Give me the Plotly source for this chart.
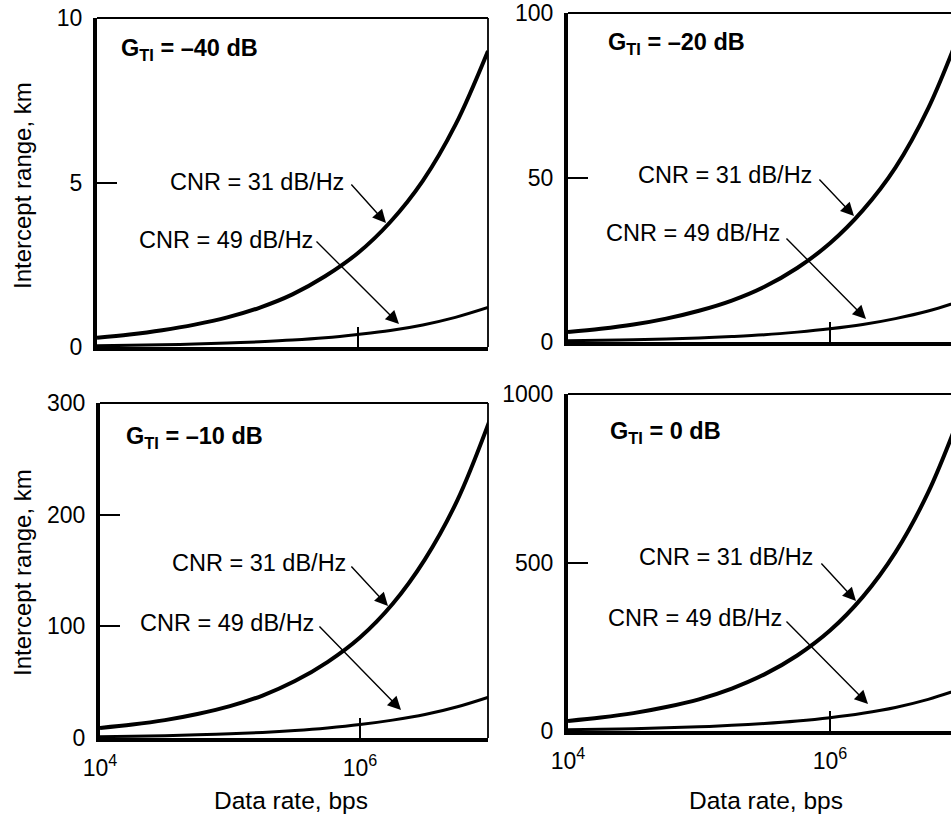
import plotly.graph_objects as go

# ---------------- data ----------------
data_rate = [10000, 17800, 31600, 56200, 100000, 178000, 316000, 562000,
             1000000, 1780000, 3160000, 5620000, 10000000]

# G_TI = -40 dB
g40_cnr31 = [0.28, 0.38, 0.51, 0.68, 0.90, 1.2, 1.6, 2.15, 2.85, 3.8, 5.05, 6.75, 9.0]
g40_cnr49 = [0.038, 0.05, 0.067, 0.09, 0.12, 0.16, 0.21, 0.28, 0.38, 0.5, 0.67, 0.9, 1.2]
# G_TI = -20 dB
g20_cnr31 = [3.0, 4.0, 5.3, 7.1, 9.5, 12.6, 16.8, 22.5, 30, 40, 53, 71, 95]
g20_cnr49 = [0.4, 0.53, 0.7, 0.94, 1.25, 1.67, 2.2, 3.0, 4.0, 5.3, 7.1, 9.4, 12.5]
# G_TI = -10 dB
g10_cnr31 = [9, 12, 16, 21.5, 28.5, 38, 51, 68, 90, 120, 160, 213, 285]
g10_cnr49 = [1.2, 1.6, 2.1, 2.8, 3.8, 5.0, 6.7, 9.0, 12, 16, 21, 28, 37]
# G_TI = 0 dB
g0_cnr31 = [30, 40, 53, 71, 94, 126, 168, 224, 298, 398, 530, 708, 945]
g0_cnr49 = [4, 5.3, 7, 9.4, 12.5, 16.7, 22.2, 29.6, 39.5, 52.7, 70, 94, 125]

panel_titles = ["G<sub>TI</sub> = \u201340 dB", "G<sub>TI</sub> = \u201320 dB",
                "G<sub>TI</sub> = \u201310 dB", "G<sub>TI</sub> = 0 dB"]
y_ticks = [[0, 5, 10], [0, 50, 100], [0, 100, 200, 300], [0, 500, 1000]]
y_max = [10, 100, 300, 1000]
x_tickvals = [10000, 1000000]
x_ticktext = ["10<sup>4</sup>", "10<sup>6</sup>"]
label31 = "CNR = 31 dB/Hz"
label49 = "CNR = 49 dB/Hz"
x_title = "Data rate, bps"
y_title = "Intercept range, km"

series = [(g40_cnr31, g40_cnr49), (g20_cnr31, g20_cnr49),
          (g10_cnr31, g10_cnr49), (g0_cnr31, g0_cnr49)]

# ---------------- layout geometry (pixels) ----------------
W, H = 951, 815
def px(x):
    return x / W
def py(y):
    return 1 - y / H

# plot areas: (left, right, top, bottom) in pixels, x-range in log10
areas = [(97, 488, 18, 347, [4, 7.0]),
         (568, 951, 13, 342, [4, 6.924]),
         (100, 488, 403, 738, [4, 6.985]),
         (568, 951, 394, 731, [4, 6.924])]

FONT = "Liberation Sans, Arial, Helvetica, sans-serif"
fig = go.Figure()

for i, (area, (c31, c49)) in enumerate(zip(areas, series)):
    n = "" if i == 0 else str(i + 1)
    xa, ya = "x" + n, "y" + n
    fig.add_trace(go.Scatter(x=data_rate, y=c31, mode="lines", xaxis=xa, yaxis=ya,
                             line=dict(color="black", width=4, shape="spline"),
                             showlegend=False))
    fig.add_trace(go.Scatter(x=data_rate, y=c49, mode="lines", xaxis=xa, yaxis=ya,
                             line=dict(color="black", width=3, shape="spline"),
                             showlegend=False))
    l, r, t, b, xr = area
    bottom_row = i >= 2
    fig.layout["xaxis" + n] = dict(
        type="log", range=xr, domain=[px(l), px(r)], anchor=ya, automargin=False,
        showgrid=False, zeroline=False, showline=True, linecolor="black", linewidth=4,
        ticks="inside", ticklen=20, tickwidth=1.5, tickcolor="black",
        tickvals=x_tickvals, ticktext=x_ticktext, showticklabels=bottom_row,
        tickfont=dict(family=FONT, size=23, color="black"), ticklabelstandoff=6,
    )
    fig.layout["yaxis" + n] = dict(
        range=[0, y_max[i]], domain=[py(b), py(t)], anchor=xa, automargin=False,
        showgrid=False, zeroline=False, showline=True, linecolor="black", linewidth=4,
        ticks="inside", ticklen=20, tickwidth=1.5, tickcolor="black",
        tickvals=y_ticks[i], ticktext=[str(v) for v in y_ticks[i]],
        tickfont=dict(family=FONT, size=23, color="black"), ticklabelstandoff=6,
    )
    # thin top border
    fig.add_shape(type="line", xref=xa + " domain", yref=ya + " domain",
                  x0=0, x1=1, y0=1, y1=1, line=dict(color="black", width=1.8))
    if r < W:
        fig.add_shape(type="line", xref=xa + " domain", yref=ya + " domain",
                      x0=1, x1=1, y0=0, y1=1, line=dict(color="black", width=1.8))

# ---------------- annotations ----------------
# (G label centre, cnr31 text pos, cnr31 arrow tail, head, cnr49 text pos, tail, head)
ann_pos = [
    ((189, 50), (168, 182), (350, 183), (386, 223), (137, 240), (315, 240), (399, 324)),
    ((676, 43), (636, 175), (818, 178), (854, 216), (604, 233), (785, 237), (866, 319)),
    ((194, 437), (170, 563), (350, 565), (388, 606), (138, 623), (318, 625), (401, 710)),
    ((665, 432), (637, 557), (820, 562), (856, 601), (606, 618), (785, 620), (868, 704)),
]

anns = []
for i, (g, t31, a31, h31, t49, a49, h49) in enumerate(ann_pos):
    anns.append(dict(text="<b>" + panel_titles[i] + "</b>", xref="paper", yref="paper",
                     x=px(g[0]), y=py(g[1]), xanchor="center", yanchor="middle",
                     showarrow=False, font=dict(family=FONT, size=23.5, color="black")))
    for txt, tp, tail, head in [(label31, t31, a31, h31), (label49, t49, a49, h49)]:
        anns.append(dict(text=txt, xref="paper", yref="paper", x=px(tp[0]), y=py(tp[1]),
                         xanchor="left", yanchor="middle", showarrow=False,
                         font=dict(family=FONT, size=23.5, color="black")))
        anns.append(dict(text="", xref="paper", yref="paper", x=px(head[0]), y=py(head[1]),
                         ax=tail[0] - head[0], ay=tail[1] - head[1], showarrow=True,
                         arrowhead=2, arrowsize=1.9, arrowwidth=1.4, arrowcolor="black",
                         standoff=0, startstandoff=0))

# axis titles
for (cx, cy) in [(22, 186), (22, 573)]:
    anns.append(dict(text=y_title, xref="paper", yref="paper", x=px(cx), y=py(cy),
                     xanchor="center", yanchor="middle", textangle=-90, showarrow=False,
                     font=dict(family=FONT, size=24, color="black")))
for (cx, cy) in [(291, 800), (766, 800)]:
    anns.append(dict(text=x_title, xref="paper", yref="paper", x=px(cx), y=py(cy),
                     xanchor="center", yanchor="middle", showarrow=False,
                     font=dict(family=FONT, size=24.5, color="black")))

fig.update_layout(width=W, height=H, margin=dict(l=0, r=0, t=0, b=0, autoexpand=False),
                  paper_bgcolor="white", plot_bgcolor="white",
                  annotations=anns, showlegend=False)

fig.write_html("out.html", config={"displayModeBar": False},
               post_script="document.body.style.margin='0';document.body.style.overflow='hidden';")
